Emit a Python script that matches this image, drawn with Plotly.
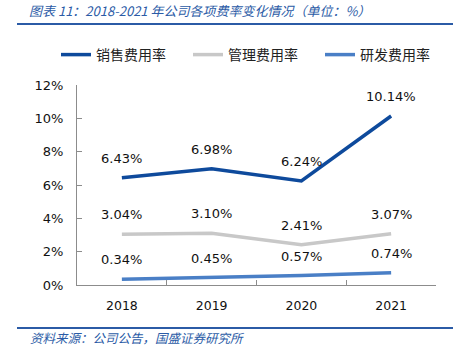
import plotly.graph_objects as go

years = ["2018", "2019", "2020", "2021"]
sales = [6.43, 6.98, 6.24, 10.14]
admin = [3.04, 3.10, 2.41, 3.07]
rnd = [0.34, 0.45, 0.57, 0.74]
names = ["销售费用率", "管理费用率", "研发费用率"]
colors = ["#0E4A9C", "#C8C8C8", "#4A7FC6"]
yticks = [0, 2, 4, 6, 8, 10, 12]

W, H = 469, 358
L, T, B = 77, 85, 285
R = W - 436
PW, PH = W - L - R, B - T


def px(x):
    return (x - L) / PW


def py(y):
    return (B - y) / PH


fig = go.Figure()
for name, vals, c in zip(names, [sales, admin, rnd], colors):
    fig.add_trace(go.Scatter(x=years, y=vals, name=name, mode="lines",
                             line=dict(color=c, width=3.5)))
    for i, yv in enumerate(vals):
        fig.add_annotation(x=i, y=yv, text=f"{yv:.2f}%", showarrow=False,
                           xref="x", yref="y", yanchor="bottom", yshift=10,
                           font=dict(family="DejaVu Sans", size=13, color="#111"))

fig.add_annotation(x=px(27), y=py(11), xref="paper", yref="paper",
                   xanchor="left", yanchor="middle", showarrow=False,
                   text="图表 11：2018-2021 年公司各项费率变化情况（单位：%）",
                   font=dict(family="Noto Sans CJK SC", size=13, color="#2B5BA6", style="italic"))
fig.add_annotation(x=px(28), y=py(337), xref="paper", yref="paper",
                   xanchor="left", yanchor="middle", showarrow=False,
                   text="资料来源：公司公告，国盛证券研究所",
                   font=dict(family="Noto Sans CJK SC", size=12.5, color="#2B5BA6", style="italic"))

for yy in [24, 328]:
    fig.add_shape(type="line", xref="paper", yref="paper",
                  x0=px(17), x1=px(453), y0=py(yy), y1=py(yy),
                  line=dict(color="#2B5BA6", width=2))

fig.update_layout(
    width=W, height=H,
    margin=dict(l=L, r=R, t=T, b=H - B, autoexpand=False),
    paper_bgcolor="white", plot_bgcolor="white",
    showlegend=True,
    legend=dict(orientation="h", x=px(56), xanchor="left", y=py(55), yanchor="middle",
                font=dict(family="Noto Sans CJK SC", size=14, color="#222"),
                itemwidth=30, tracegroupgap=0, entrywidth=87, entrywidthmode="pixels"),
    xaxis=dict(type="category", range=[-0.5, 3.5], showline=True, linecolor="#8C8C8C",
               ticks="inside", ticklen=5, tickcolor="#8C8C8C", tickson="boundaries",
               ticklabelstandoff=9,
               showgrid=False, tickfont=dict(family="DejaVu Sans", size=12.5, color="#111")),
    yaxis=dict(range=[0, 12], tickvals=yticks, ticktext=[f"{v}%" for v in yticks],
               showline=True, linecolor="#8C8C8C", ticks="inside", ticklen=5, tickcolor="#8C8C8C",
               ticklabelstandoff=10,
               showgrid=False, zeroline=False,
               tickfont=dict(family="DejaVu Sans", size=13, color="#111")),
)

fig.write_html("out.html", config={"displayModeBar": False},
               post_script="document.body.style.margin='0';document.body.style.padding='0';")
